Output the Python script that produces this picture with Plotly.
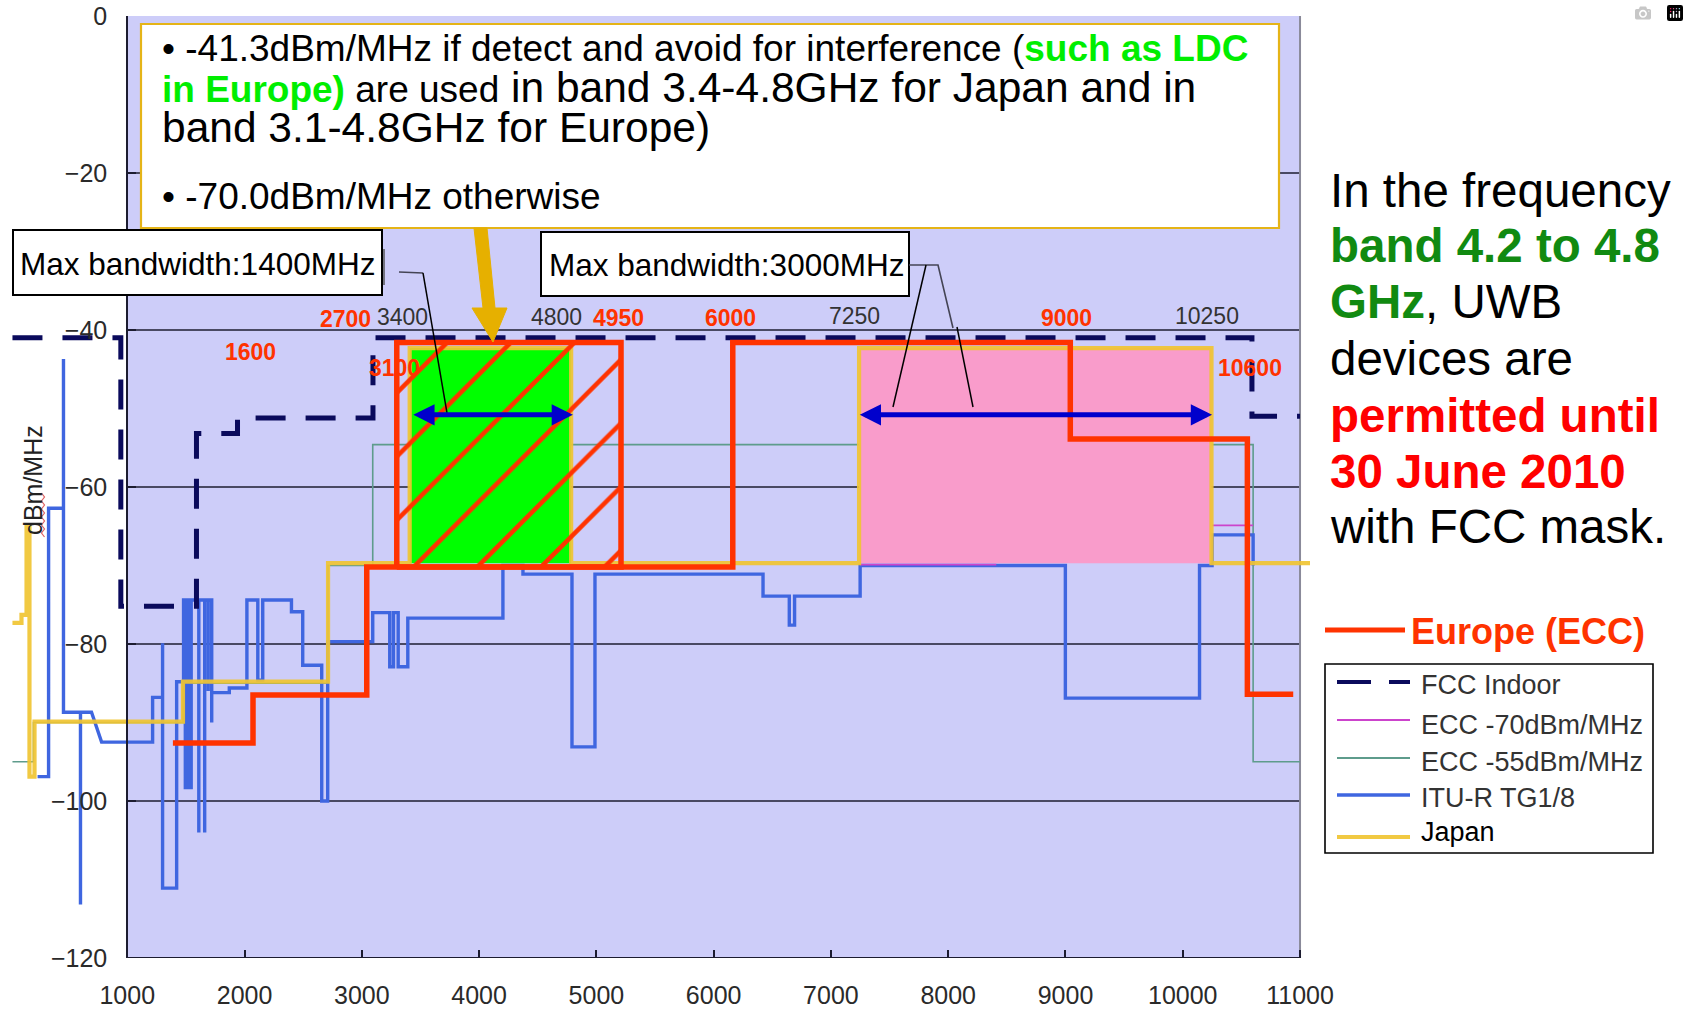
import plotly.graph_objects as go

# ---------------- data (MHz, dBm/MHz) ----------------
x_ticks = [1000, 2000, 3000, 4000, 5000, 6000, 7000, 8000, 9000, 10000, 11000]
y_ticks = [0, -20, -40, -60, -80, -100, -120]

fcc_x = [21, 945, 945, 1590, 1590, 1940, 1940, 3095, 3095, 10590, 10590, 11000]
fcc_y = [-41.0, -41.0, -75.2, -75.2, -53.2, -53.2, -51.2, -51.2, -41.0, -41.0, -51.0, -51.0]

ecc55_x = [21, 200, 200, 1475, 1475, 2712, 2712, 3093, 3093, 10600, 10600, 11000]
ecc55_y = [-95.0, -95.0, -90.0, -90.0, -85.0, -85.0, -70.0, -70.0, -54.6, -54.6, -95.0, -95.0]

ecc70_x = [7250, 8410, None, 10250, 10600]
ecc70_y = [-69.9, -69.9, None, -64.9, -64.9]

itu_x = [235, 329, 329, 456, 456, 456, 601, 601, 601, 695, 781, 1216, 1216, 1301, 1301, 1301,
         1421, 1421, 1480, 1480, 1495, 1495, 1510, 1510, 1525, 1525, 1545, 1545, 1610, 1610,
         1610, 1660, 1660, 1660, 1690, 1690, 1690, 1720, 1720, 1720, 1870, 1870, 2020, 2020,
         2113, 2113, 2155, 2155, 2400, 2400, 2496, 2496, 2658, 2658, 2709, 2709, 3093, 3093,
         3238, 3238, 3270, 3270, 3310, 3310, 3392, 3392, 4203, 4203, 4374, 4374, 4792, 4792,
         4988, 4988, 6421, 6421, 6645, 6645, 6690, 6690, 7249, 7249, 8999, 8999, 10143, 10143,
         10250, 10250, 10600, 10600]
itu_y = [-96.9, -96.9, -62.7, -62.7, -43.7, -88.7, -88.7, -113.2, -88.7, -88.7, -92.5, -92.5,
         -86.8, -86.8, -79.9, -111.1, -111.1, -84.8, -84.8, -74.4, -74.4, -98.3, -98.3, -74.4,
         -74.4, -98.3, -98.3, -74.4, -74.4, -104.0, -74.4, -74.4, -104.0, -74.4, -74.4, -86.0,
         -74.4, -74.4, -90.0, -86.2, -86.2, -85.6, -85.6, -74.4, -74.4, -84.6, -84.6, -74.4,
         -74.4, -75.9, -75.9, -82.7, -82.7, -100.0, -100.0, -79.7, -79.7, -76.0, -76.0, -82.9,
         -82.9, -76.0, -76.0, -82.9, -82.9, -76.7, -76.7, -70.0, -70.0, -71.1, -71.1, -93.1,
         -93.1, -71.1, -71.1, -73.9, -73.9, -77.6, -77.6, -73.9, -73.9, -70.0, -70.0, -86.9,
         -86.9, -70.0, -70.0, -66.1, -66.1, -70.0]

japan_x = [21, 98, 98, 141, 141, 166, 166, 209, 209, 1475, 1475, 2712, 2712, 3408, 3408,
           4785, 4785, 7240, 7240, 10245, 10245, 11090]
japan_y = [-77.3, -77.3, -76.3, -76.3, -65.0, -65.0, -96.9, -96.9, -89.9, -89.9, -84.8, -84.8,
           -69.7, -69.7, -42.3, -42.3, -69.7, -69.7, -42.3, -42.3, -69.7, -69.7]
japan_bands = [[3408, 4785], [7240, 10245]]
japan_band_level = [-69.7, -42.3]

europe_x = [1389, 2072, 2072, 3042, 3042, 6163, 6163, 9041, 9041, 10551, 10551, 10942]
europe_y = [-92.6, -92.6, -86.5, -86.5, -70.2, -70.2, -41.6, -41.6, -53.9, -53.9, -86.4, -86.4]
europe_daa_band = [3298, 5210]
europe_daa_level = [-70.2, -41.6]

bw_arrows_x = [[3426, 4800], [7233, 10250]]
bw_arrow_y = -50.8

red_labels = ["2700", "1600", "3100", "4950", "6000", "9000", "10600"]
red_label_x = [2863, 2052, 3281, 5192, 6147, 9006, 10577]
red_label_y = [-38.6, -42.8, -44.8, -38.5, -38.5, -38.5, -44.8]
gray_labels = ["3400", "4800", "7250", "10250"]
gray_label_x = [3349, 4663, 7197, 10210]
gray_label_y = [-38.4, -38.3, -38.2, -38.2]

# ---------------- styling ----------------
W, H = 1689, 1009
ML, MR, MT, MB = 10, 379, 16, 51
PW, PH = W - ML - MR, H - MT - MB
X_RANGE = [0, 11085]
FONT = "Liberation Sans, Arial, sans-serif"
RED = "#FF3300"
BLUE = "#3F66E0"
YEL = "rgba(240,196,50,0.92)"
NAVY = "#0A0A5C"
TEAL = "#5E9C8C"
MAG = "#CC44CC"
LAV = "#CDCDF9"
GRID = "#1C1C30"


def px(x):
    return (x - ML) / PW


def py(y):
    return (H - MB - y) / PH


def rect_xy(xs, ys):
    return [xs[0], xs[1], xs[1], xs[0], xs[0]], [ys[0], ys[0], ys[1], ys[1], ys[0]]


fig = go.Figure()
common = dict(mode="lines", hoverinfo="skip", showlegend=False)

fig.add_trace(go.Scatter(x=ecc55_x, y=ecc55_y, name="ECC -55dBm/MHz",
                         line=dict(color=TEAL, width=1.6), **common))
fig.add_trace(go.Scatter(x=itu_x, y=itu_y, name="ITU-R TG1/8",
                         line=dict(color=BLUE, width=3.4), **common))
band_cols = ["#00FF00", "#F99CCB"]
for (b, c) in zip(japan_bands, band_cols):
    rx, ry = rect_xy(b, japan_band_level)
    fig.add_trace(go.Scatter(x=rx, y=ry, fill="toself", fillcolor=c,
                             line=dict(width=0, color=c), **common))
fig.add_trace(go.Scatter(x=ecc70_x, y=ecc70_y, name="ECC -70dBm/MHz",
                         line=dict(color=MAG, width=1.8), **common))
fig.add_trace(go.Scatter(x=japan_x, y=japan_y, name="Japan",
                         line=dict(color=YEL, width=4.2), **common))
fig.add_trace(go.Scatter(x=fcc_x, y=fcc_y, name="FCC Indoor",
                         line=dict(color=NAVY, width=5, dash="30px,20px"), **common))
hx, hy = rect_xy(europe_daa_band, europe_daa_level)
fig.add_trace(go.Scatter(x=hx, y=hy, fill="toself", fillcolor="rgba(0,0,0,0)",
                         fillpattern=dict(shape="/", fgcolor=RED, bgcolor="rgba(0,0,0,0)",
                                          fgopacity=1, fillmode="replace",
                                          size=45, solidity=0.1),
                         line=dict(color=RED, width=5.5), **common))
fig.add_trace(go.Scatter(x=europe_x, y=europe_y, name="Europe (ECC)",
                         line=dict(color=RED, width=5.5), **common))

shapes = []
# plot background and grid
shapes.append(dict(type="rect", xref="x", yref="y", x0=x_ticks[0], x1=x_ticks[-1],
                   y0=y_ticks[-1], y1=0.45, fillcolor=LAV, line=dict(width=0), layer="below"))
for g in y_ticks[1:-1]:
    shapes.append(dict(type="line", xref="x", yref="y", x0=x_ticks[0], x1=x_ticks[-1],
                       y0=g, y1=g, line=dict(color=GRID, width=1.6), layer="below"))
shapes.append(dict(type="line", xref="x", yref="y", x0=x_ticks[0], x1=x_ticks[-1],
                   y0=0.45, y1=0.45, line=dict(color="#8888A0", width=1.2), layer="below"))
shapes.append(dict(type="line", xref="x", yref="y", x0=x_ticks[-1], x1=x_ticks[-1],
                   y0=y_ticks[-1], y1=0.45, line=dict(color="#8A8A9A", width=2), layer="below"))
shapes.append(dict(type="line", xref="x", yref="y", x0=x_ticks[0], x1=x_ticks[-1],
                   y0=y_ticks[-1], y1=y_ticks[-1], line=dict(color=GRID, width=2), layer="above"))


def box(x0, y0, x1, y1, color="black", width=2, fill="white"):
    shapes.append(dict(type="rect", xref="paper", yref="paper", x0=px(x0), x1=px(x1),
                       y0=py(y1), y1=py(y0), fillcolor=fill,
                       line=dict(color=color, width=width), layer="above"))


def poly(pts, color, width=1.5, fill=None, close=False):
    d = "M " + " L ".join(f"{px(a):.5f},{py(b):.5f}" for a, b in pts)
    if close:
        d += " Z"
    s = dict(type="path", xref="paper", yref="paper", path=d,
             line=dict(color=color, width=width), layer="above")
    if fill:
        s["fillcolor"] = fill
    shapes.append(s)


# callout boxes
box(141, 24, 1279, 228, color="#E5B417", width=2.2)
box(13, 230, 382, 295)
box(541, 232, 909, 296)
poly([(384, 249), (384, 285)], "#555555", 1.5)
poly([(399, 272), (423, 273)], "#444455", 1.5)
poly([(423, 273), (447, 413)], "black", 1.5)
poly([(909, 265), (938, 265), (953, 328)], "#444455", 1.6)
poly([(926, 265), (893, 407)], "black", 1.5)
poly([(957, 327), (973, 407)], "black", 1.5)
# golden pointer arrow
poly([(474, 228), (487, 228), (495, 308), (507, 308), (493, 342), (472, 308), (483, 308)],
     "#E6B000", 1, fill="#E6B000", close=True)
# spell-check squiggle under the axis unit
poly([(43 + (3 if i % 2 else -3) * 0.5, 493 + i * 4) for i in range(12)], "#E06060", 1.2)

# legend
box(1325, 664, 1653, 853, color="black", width=1.6)
poly([(1325, 630), (1405, 630)], RED, 5)
legend_items = [("FCC Indoor", NAVY, 4, "dash", 682, 685, "#333333"),
                ("ECC -70dBm/MHz", MAG, 1.8, "solid", 720, 725, "#333333"),
                ("ECC -55dBm/MHz", TEAL, 1.8, "solid", 758, 762, "#333333"),
                ("ITU-R TG1/8", BLUE, 3.4, "solid", 795, 798, "#333333"),
                ("Japan", YEL, 4.2, "solid", 837, 832, "black")]
annotations = []
for name, col, wid, dash, ly, ty, tc in legend_items:
    shapes.append(dict(type="line", xref="paper", yref="paper", x0=px(1337), x1=px(1410),
                       y0=py(ly), y1=py(ly),
                       line=dict(color=col, width=wid, dash="34px,18px" if dash == "dash" else "solid"),
                       layer="above"))
    annotations.append(dict(text=name, xref="paper", yref="paper", x=px(1419), y=py(ty),
                            xanchor="left", yanchor="middle", showarrow=False,
                            font=dict(family=FONT, size=27, color=tc)))
annotations.append(dict(text="<b>Europe (ECC)</b>", xref="paper", yref="paper", x=px(1409),
                        y=py(631), xanchor="left", yanchor="middle", showarrow=False,
                        font=dict(family=FONT, size=36, color=RED)))

# bandwidth arrows
for xs in bw_arrows_x:
    annotations.append(dict(x=xs[1], y=bw_arrow_y, ax=xs[0], ay=bw_arrow_y, xref="x", yref="y",
                            axref="x", ayref="y", text="", showarrow=True, arrowhead=2,
                            arrowside="end+start", arrowwidth=5, arrowsize=0.85,
                            arrowcolor="#0000CC", standoff=0, startstandoff=0))

# frequency labels
for t, x, y in zip(red_labels, red_label_x, red_label_y):
    annotations.append(dict(text=f"<b>{t}</b>", x=x, y=y, xref="x", yref="y", showarrow=False,
                            font=dict(family=FONT, size=23, color=RED)))
for t, x, y in zip(gray_labels, gray_label_x, gray_label_y):
    annotations.append(dict(text=t, x=x, y=y, xref="x", yref="y", showarrow=False,
                            font=dict(family=FONT, size=23, color="#333333")))

# top text box (first bullet as one 3-line block with tight line spacing)
GREEN = "#00EE00"
S_SMALL, S_BIG = 37, 42.5
bullet1 = (
    f"<span style='font-size:{S_SMALL}px'>\u2022 -41.3dBm/MHz if detect and avoid for interference ("
    f"<b><span style='color:{GREEN}'>such as LDC</span></b></span><br>"
    f"<span style='font-size:{S_SMALL}px'><b><span style='color:{GREEN}'>in Europe)</span></b> are used</span>"
    f"<span style='font-size:{S_BIG}px'> in band 3.4-4.8GHz for Japan and in</span><br>"
    f"<span style='font-size:{S_BIG}px'>band 3.1-4.8GHz for Europe)</span>"
)
annotations.append(dict(text=bullet1, xref="paper", yref="paper", x=px(160), y=py(90),
                        xanchor="left", yanchor="middle", align="left", showarrow=False,
                        font=dict(family=FONT, size=31.2, color="black")))
annotations.append(dict(text="\u2022 -70.0dBm/MHz otherwise", xref="paper", yref="paper",
                        x=px(160), y=py(197), xanchor="left", yanchor="middle", showarrow=False,
                        font=dict(family=FONT, size=S_SMALL, color="black")))

annotations.append(dict(text="Max bandwidth:1400MHz", xref="paper", yref="paper", x=px(18),
                        y=py(264), xanchor="left", yanchor="middle", showarrow=False,
                        font=dict(family=FONT, size=31.5, color="black")))
annotations.append(dict(text="Max bandwidth:3000MHz", xref="paper", yref="paper", x=px(547),
                        y=py(265), xanchor="left", yanchor="middle", showarrow=False,
                        font=dict(family=FONT, size=31.5, color="black")))

# right-hand statement
DG = "#118A11"
right_lines = [
    "In the frequency",
    f"<b><span style='color:{DG}'>band 4.2 to 4.8</span></b>",
    f"<b><span style='color:{DG}'>GHz</span></b>, UWB",
    "devices are",
    "<b><span style='color:#FF0000'>permitted until</span></b>",
    "<b><span style='color:#FF0000'>30 June 2010</span></b>",
    "with FCC mask.",
]
right_base = [207, 262, 318, 375, 432, 488, 543]
for t, b in zip(right_lines, right_base):
    annotations.append(dict(text=t, xref="paper", yref="paper", x=px(1328), y=py(b - 16.5),
                            xanchor="left", yanchor="middle", showarrow=False,
                            font=dict(family=FONT, size=47.5, color="black")))

annotations.append(dict(text="dBm/MHz", xref="paper", yref="paper", x=px(33), y=py(480),
                        xanchor="center", yanchor="middle", textangle=-90, showarrow=False,
                        font=dict(family=FONT, size=25, color="#222222")))

fig.update_layout(
    width=W, height=H,
    margin=dict(l=ML, r=MR, t=MT, b=MB, pad=0),
    paper_bgcolor="white", plot_bgcolor="white",
    shapes=shapes, annotations=annotations, showlegend=False,
    xaxis=dict(range=X_RANGE, tickvals=x_ticks, ticktext=[str(v) for v in x_ticks],
               showgrid=False, zeroline=False, showline=False, ticks="inside", ticklen=8,
               tickwidth=2, tickcolor=GRID, ticklabelstandoff=20, automargin=False,
               tickfont=dict(family=FONT, size=25, color="#2A2A2A"), fixedrange=True),
    yaxis=dict(range=[-120, 0], tickvals=y_ticks, anchor="free",
               position=(x_ticks[0] - X_RANGE[0]) / (X_RANGE[1] - X_RANGE[0]),
               showgrid=False, zeroline=False, showline=True, linecolor=GRID, linewidth=2,
               ticks="inside", ticklen=8, tickwidth=2, tickcolor=GRID,
               ticklabelstandoff=14, automargin=False,
               tickfont=dict(family=FONT, size=25, color="#2A2A2A"), fixedrange=True),
)

fig.write_html("out.html", post_script="document.body.style.margin='0';document.body.style.overflow='hidden';")
